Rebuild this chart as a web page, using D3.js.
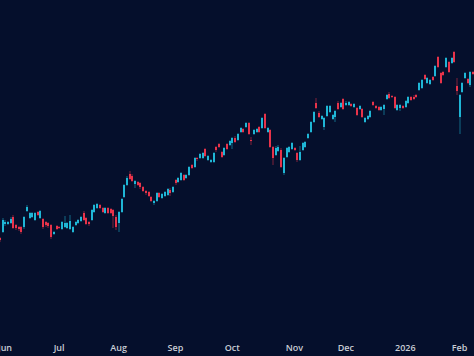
<!DOCTYPE html>
<html>
<head>
<meta charset="utf-8">
<script src="https://cdn.jsdelivr.net/npm/d3@7/dist/d3.min.js"></script>
<style>
  html, body { margin: 0; padding: 0; background: #050f2c; }
  svg { display: block; }
</style>
</head>
<body>
<svg id="chart" width="474" height="356"></svg>
<script>
// ---- DATA (daily candles, 2025-05-30 .. 2026-02-10) ----
const startDate = "2025-05-30";
const endDate = "2026-02-10";
const holidays = ["2025-06-19","2025-07-04","2025-09-01","2025-11-27","2025-12-25","2026-01-01","2026-01-19"];

const open = [
  162,168,176,176,177,183,175,173,173,173,189,182,183,180,188,182,181,178,177,175,166,
  174,173,171,173,172,171,168,175,177,179,
  187,182,178,180,188,192,195,192,187,192,
  191,190,183,177,188,203,215,226,224,216,
  218,217,213,209,208,203,197,199,207,202,
  204,205,210,208,220,218,220,225,222,225,
  235,233,242,242,242,251,240,238,238,253,
  256,248,245,256,255,257,262,260,268,271,
  273,277,260,266,268,273,272,286,268,270,
  253,245,249,250,227,243,248,251,252,247,
  240,250,253,262,268,278,297,287,281,273,
  284,288,281,283,297,293,301,295,295,296,
  293,292,291,291,278,281,283,298,294,293,
  290,291,301,306,304,303,290,292,294,293,
  297,303,303,305,310,312,325,317,316,323,
  324,343,327,328,333,338,337,348,314,283,
  308,322,321,315,328
];
const high = [
  163,182,180,179,183,185,176,174,174,184,195,188,188,188,189,190,182,179,178,176,169,
  175,174,179,184,178,185,174,179,181,184,
  189,183,179,191,196,197,196,193,193,193,
  192,191,185,189,202,216,224,229,226,220,
  219,218,214,210,209,204,200,208,208,207,
  209,212,212,214,221,223,228,226,226,234,
  236,243,243,247,248,252,245,241,248,254,
  257,249,253,257,260,263,264,267,273,272,
  278,278,263,271,272,274,283,287,273,271,
  254,254,255,252,243,253,254,258,253,248,
  254,258,259,267,279,289,302,289,285,283,
  295,295,286,290,299,298,302,299,299,297,
  297,293,295,292,283,285,290,299,295,294,
  294,296,306,308,305,304,296,296,295,300,
  304,304,305,306,318,321,326,323,321,324,
  335,344,328,329,343,339,343,349,322,306,
  318,328,322,329,329
];
const low = [
  158,167,174,175,176,171,170,169,166,171,188,181,182,179,184,181,171,173,172,161,165,
  170,171,170,172,171,170,167,174,176,178,
  179,175,174,179,187,191,191,187,186,186,
  186,172,170,168,187,202,214,220,218,212,
  214,211,208,205,203,198,195,198,202,201,
  203,204,204,207,215,217,219,219,221,224,
  231,232,239,241,241,243,239,237,237,248,
  252,242,244,250,254,251,257,259,267,267,
  272,265,255,265,267,267,271,271,267,252,
  235,244,248,232,225,242,247,250,249,238,
  239,249,252,261,267,277,291,282,280,270,
  283,287,280,278,290,292,290,294,294,293,
  292,284,290,282,277,280,282,294,291,289,
  289,285,300,301,302,291,289,289,291,292,
  296,299,300,302,309,311,320,316,315,319,
  323,332,316,324,332,327,336,337,305,266,
  307,321,316,313,325
];
const close = [
  160,180,178,178,181,172,172,171,168,183,193,187,187,187,185,189,173,175,174,163,168,
  171,172,178,177,177,179,173,178,180,183,
  180,176,176,190,195,196,192,188,192,187,
  187,184,173,188,201,215,222,221,219,219,
  215,213,209,207,204,199,199,207,203,206,
  208,211,207,213,217,222,227,220,225,233,
  232,242,241,246,247,244,244,240,247,250,
  253,243,252,251,259,262,258,266,272,268,
  277,266,259,270,271,268,282,272,272,253,
  242,252,253,233,242,252,253,257,250,240,
  248,257,258,266,278,288,292,283,284,282,
  294,294,285,289,291,297,291,297,298,294,
  296,285,294,283,282,284,289,295,292,290,
  293,295,305,302,303,292,295,295,292,299,
  303,300,301,303,317,320,321,322,320,320,
  334,333,317,325,342,328,342,338,309,305,
  317,327,317,328,326
];
const monthLabels = ["Jun","Jul","Aug","Sep","Oct","Nov","Dec","2026","Feb"];

// ---- build trading-day categories ----
const fmt = d3.utcFormat("%Y-%m-%d");
const dates = d3.utcDay.range(new Date(startDate + "T00:00:00Z"), d3.utcDay.offset(new Date(endDate + "T00:00:00Z"), 1))
  .filter(d => d.getUTCDay() !== 0 && d.getUTCDay() !== 6 && !holidays.includes(fmt(d)))
  .map(fmt);

const data = dates.map((d, i) => ({ date: d, o: open[i], h: high[i], l: low[i], c: close[i] }));

// ---- layout ----
const W = 474, H = 356;
const svg = d3.select("#chart");
svg.append("rect").attr("width", W).attr("height", H).attr("fill", "#050f2c");

const x = d3.scalePoint().domain(dates).range([-0.2, 473.2]);
const y = d3.scaleLinear().domain([44, 400]).range([356, 0]);

const UP = "#1fb6d6", DOWN = "#e8334a";

const g = svg.append("g");
const candles = g.selectAll("g.c").data(data).join("g").attr("class", "c");

candles.append("rect")
  .attr("x", d => Math.round(x(d.date)) - 0.5)
  .attr("width", 1)
  .attr("y", d => y(d.h))
  .attr("height", d => Math.max(1, y(d.l) - y(d.h)))
  .attr("fill", d => d.c >= d.o ? UP : DOWN)
  .attr("opacity", 0.55);

candles.append("rect")
  .attr("x", d => Math.round(x(d.date)) - 1)
  .attr("width", 2)
  .attr("y", d => y(Math.max(d.o, d.c)))
  .attr("height", d => Math.max(1, Math.abs(y(d.o) - y(d.c))))
  .attr("fill", d => d.c >= d.o ? UP : DOWN);

// ---- month axis labels at first trading day of each month ----
const firsts = [];
dates.forEach((d, i) => {
  const m = d.slice(0, 7);
  if (i > 0 && m !== dates[i - 1].slice(0, 7)) firsts.push(d);
});
const tickDates = firsts.slice(0, monthLabels.length);

const axis = d3.axisBottom(x).tickValues(tickDates).tickSize(0).tickPadding(0)
  .tickFormat((d, i) => monthLabels[i]);
const ax = svg.append("g").attr("transform", "translate(2,345)").call(axis);
ax.select(".domain").remove();
ax.selectAll("text")
  .attr("fill", "#c9cdd6")
  .attr("font-family", "'Open Sans', sans-serif")
  .attr("font-size", "9px")
  .attr("font-weight", 600);
</script>
</body>
</html>
